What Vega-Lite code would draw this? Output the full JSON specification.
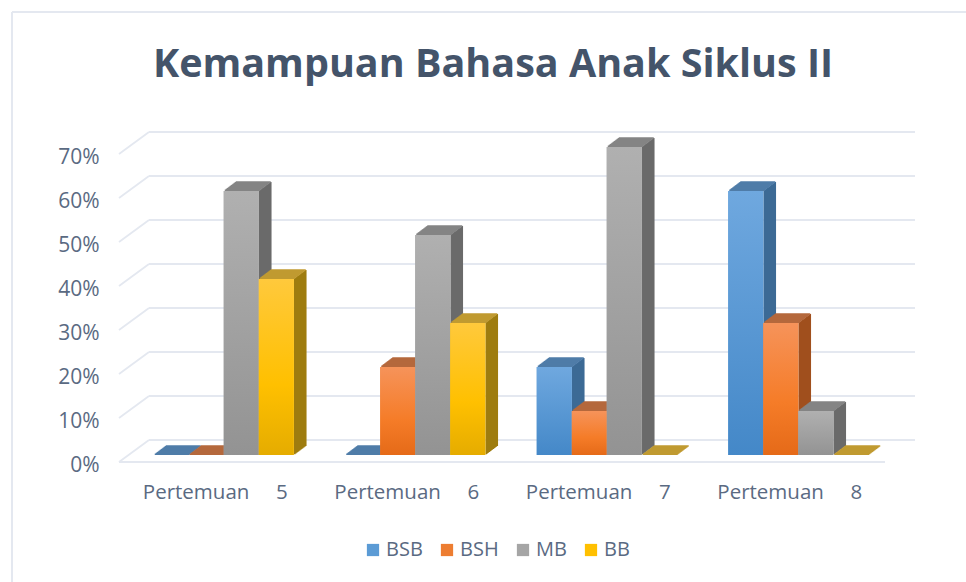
{"$schema":"https://vega.github.io/schema/vega-lite/v6.json","autosize":"none","width":766,"height":308,"padding":{"left":119,"top":154,"right":81,"bottom":120},"background":"white",
"title":{"text":"Kemampuan Bahasa Anak Siklus II","font":"Open Sans","fontWeight":"bold","fontSize":39.5,"color":"#44546a","anchor":"middle","frame":"group","dx":-9,"offset":-74},
"config":{"view":{"stroke":null}},
"data":{"values":[{"p":"Pertemuan 5","s":"BSB","v":0},{"p":"Pertemuan 5","s":"BSH","v":0},{"p":"Pertemuan 5","s":"MB","v":0.6},{"p":"Pertemuan 5","s":"BB","v":0.4},{"p":"Pertemuan 6","s":"BSB","v":0},{"p":"Pertemuan 6","s":"BSH","v":0.2},{"p":"Pertemuan 6","s":"MB","v":0.5},{"p":"Pertemuan 6","s":"BB","v":0.3},{"p":"Pertemuan 7","s":"BSB","v":0.2},{"p":"Pertemuan 7","s":"BSH","v":0.1},{"p":"Pertemuan 7","s":"MB","v":0.7},{"p":"Pertemuan 7","s":"BB","v":0},{"p":"Pertemuan 8","s":"BSB","v":0.6},{"p":"Pertemuan 8","s":"BSH","v":0.3},{"p":"Pertemuan 8","s":"MB","v":0.1},{"p":"Pertemuan 8","s":"BB","v":0}]},
"datasets":{"grid":[{"g":0},{"g":0.1},{"g":0.2},{"g":0.3},{"g":0.4},{"g":0.5},{"g":0.6},{"g":0.7}]},
"layer":[
{"mark":{"type":"rule","color":"#e4e8f0","strokeWidth":2},"encoding":{"x":{"value":-107},"x2":{"value":847},"y":{"value":-142}}},
{"mark":{"type":"rule","color":"#e4e8f0","strokeWidth":2},"encoding":{"x":{"value":-107},"y":{"value":-142},"y2":{"value":428}}},
{"data":{"name":"grid"},"mark":{"type":"rule","color":"#e4e8f0","strokeWidth":1.8},"encoding":{"x":{"value":30},"x2":{"value":796},"y":{"field":"g","type":"quantitative","scale":{"domain":[0,0.7],"range":[308,0],"nice":false},"axis":{"values":[0,0.1,0.2,0.3,0.4,0.5,0.6,0.7],"format":".0%","title":null,"grid":false,"ticks":false,"domain":false,"labelPadding":20,"labelFont":"Open Sans","labelFontSize":21,"labelColor":"#5a6a82","labelOffset":3}},"yOffset":{"value":-22}}},
{"data":{"name":"grid"},"mark":{"type":"rule","color":"#e4e8f0","strokeWidth":1.8,"y2Offset":-22},"encoding":{"x":{"value":0},"x2":{"value":30},"y":{"field":"g","type":"quantitative"},"y2":{"field":"g"}}},
{"data":{"values":[{"g":0}]},"mark":{"type":"rule","color":"#e4e8f0","strokeWidth":1.8},"encoding":{"x":{"value":0},"x2":{"value":766},"y":{"field":"g","type":"quantitative"}}},
{"transform":[{"calculate":"indexof(['Pertemuan 5','Pertemuan 6','Pertemuan 7','Pertemuan 8'],datum.p)+(indexof(['BSB','BSH','MB','BB'],datum.s)-1.5)*0.18277","as":"pos"}],
"encoding":{"x":{"field":"pos","type":"quantitative","scale":{"domain":[-0.5,3.5],"nice":false,"zero":false,"padding":0},"axis":{"title":null,"values":[0,1,2,3],"labelExpr":"['Pertemuan\u00a0\u00a0\u00a0\u00a0\u00a05','Pertemuan\u00a0\u00a0\u00a0\u00a0\u00a06','Pertemuan\u00a0\u00a0\u00a0\u00a0\u00a07','Pertemuan\u00a0\u00a0\u00a0\u00a0\u00a08'][datum.value]","grid":false,"ticks":false,"domain":false,"labelPadding":20,"labelFont":"Open Sans","labelFontSize":20.5,"labelColor":"#5a6a82","labelOffset":0}},"y":{"field":"v","type":"quantitative","stack":null}},
"layer":[
{"mark":{"type":"rule","strokeWidth":1.6,"xOffset":38.5,"yOffset":-16,"y2Offset":-16},"encoding":{"y2":{"datum":0},"stroke":{"field":"s","legend":null,"scale":{"domain":["BB","BSB","BSH","MB"],"range":["#9e7c10","#3c6a96","#a04f1e","#6b6b6b"]}}}},
{"mark":{"type":"rule","strokeWidth":1.6,"xOffset":37.5,"yOffset":-15.25,"y2Offset":-15.25},"encoding":{"y2":{"datum":0},"stroke":{"field":"s","legend":null}}},
{"mark":{"type":"rule","strokeWidth":1.6,"xOffset":36.5,"yOffset":-14.5,"y2Offset":-14.5},"encoding":{"y2":{"datum":0},"stroke":{"field":"s","legend":null}}},
{"mark":{"type":"rule","strokeWidth":1.6,"xOffset":35.5,"yOffset":-13.75,"y2Offset":-13.75},"encoding":{"y2":{"datum":0},"stroke":{"field":"s","legend":null}}},
{"mark":{"type":"rule","strokeWidth":1.6,"xOffset":34.5,"yOffset":-13,"y2Offset":-13},"encoding":{"y2":{"datum":0},"stroke":{"field":"s","legend":null}}},
{"mark":{"type":"rule","strokeWidth":1.6,"xOffset":33.5,"yOffset":-12.25,"y2Offset":-12.25},"encoding":{"y2":{"datum":0},"stroke":{"field":"s","legend":null}}},
{"mark":{"type":"rule","strokeWidth":1.6,"xOffset":32.5,"yOffset":-11.5,"y2Offset":-11.5},"encoding":{"y2":{"datum":0},"stroke":{"field":"s","legend":null}}},
{"mark":{"type":"rule","strokeWidth":1.6,"xOffset":31.5,"yOffset":-10.75,"y2Offset":-10.75},"encoding":{"y2":{"datum":0},"stroke":{"field":"s","legend":null}}},
{"mark":{"type":"rule","strokeWidth":1.6,"xOffset":30.5,"yOffset":-10,"y2Offset":-10},"encoding":{"y2":{"datum":0},"stroke":{"field":"s","legend":null}}},
{"mark":{"type":"rule","strokeWidth":1.6,"xOffset":29.5,"yOffset":-9.25,"y2Offset":-9.25},"encoding":{"y2":{"datum":0},"stroke":{"field":"s","legend":null}}},
{"mark":{"type":"rule","strokeWidth":1.6,"xOffset":28.5,"yOffset":-8.5,"y2Offset":-8.5},"encoding":{"y2":{"datum":0},"stroke":{"field":"s","legend":null}}},
{"mark":{"type":"rule","strokeWidth":1.6,"xOffset":27.5,"yOffset":-7.75,"y2Offset":-7.75},"encoding":{"y2":{"datum":0},"stroke":{"field":"s","legend":null}}},
{"mark":{"type":"tick","orient":"horizontal","size":35,"thickness":1.6,"opacity":1,"xOffset":21,"yOffset":-16},"encoding":{"fill":{"field":"s","legend":null,"scale":{"domain":["MB","BB","BSB","BSH"],"range":["#848484","#c09a30","#4f7ca8","#b5683c"]}}}},
{"mark":{"type":"tick","orient":"horizontal","size":35,"thickness":1.6,"opacity":1,"xOffset":20,"yOffset":-15.25},"encoding":{"fill":{"field":"s","legend":null}}},
{"mark":{"type":"tick","orient":"horizontal","size":35,"thickness":1.6,"opacity":1,"xOffset":19,"yOffset":-14.5},"encoding":{"fill":{"field":"s","legend":null}}},
{"mark":{"type":"tick","orient":"horizontal","size":35,"thickness":1.6,"opacity":1,"xOffset":18,"yOffset":-13.75},"encoding":{"fill":{"field":"s","legend":null}}},
{"mark":{"type":"tick","orient":"horizontal","size":35,"thickness":1.6,"opacity":1,"xOffset":17,"yOffset":-13},"encoding":{"fill":{"field":"s","legend":null}}},
{"mark":{"type":"tick","orient":"horizontal","size":35,"thickness":1.6,"opacity":1,"xOffset":16,"yOffset":-12.25},"encoding":{"fill":{"field":"s","legend":null}}},
{"mark":{"type":"tick","orient":"horizontal","size":35,"thickness":1.6,"opacity":1,"xOffset":15,"yOffset":-11.5},"encoding":{"fill":{"field":"s","legend":null}}},
{"mark":{"type":"tick","orient":"horizontal","size":35,"thickness":1.6,"opacity":1,"xOffset":14,"yOffset":-10.75},"encoding":{"fill":{"field":"s","legend":null}}},
{"mark":{"type":"tick","orient":"horizontal","size":35,"thickness":1.6,"opacity":1,"xOffset":13,"yOffset":-10},"encoding":{"fill":{"field":"s","legend":null}}},
{"mark":{"type":"tick","orient":"horizontal","size":35,"thickness":1.6,"opacity":1,"xOffset":12,"yOffset":-9.25},"encoding":{"fill":{"field":"s","legend":null}}},
{"mark":{"type":"tick","orient":"horizontal","size":35,"thickness":1.6,"opacity":1,"xOffset":11,"yOffset":-8.5},"encoding":{"fill":{"field":"s","legend":null}}},
{"mark":{"type":"tick","orient":"horizontal","size":35,"thickness":1.6,"opacity":1,"xOffset":10,"yOffset":-7.75},"encoding":{"fill":{"field":"s","legend":null}}},
{"mark":{"type":"bar","orient":"vertical","size":35,"xOffset":9,"yOffset":-7,"y2Offset":-7,"opacity":1},"encoding":{"y2":{"datum":0},"color":{"field":"s","type":"nominal","scale":{"domain":["BSB","BSH","MB","BB"],"range":["#5b9bd5","#ed7d31","#a5a5a5","#ffc000"]},"legend":{"orient":"none","legendX":244,"legendY":386,"direction":"horizontal","title":null,"symbolType":"square","symbolSize":150,"labelFont":"Open Sans","labelFontSize":20,"labelColor":"#5a6a82","columnPadding":14,"labelOffset":3,"symbolStrokeWidth":0}}}},
{"transform":[{"filter":"datum.s=='BSB'"}],"mark":{"type":"bar","orient":"vertical","size":35,"xOffset":9,"yOffset":-7,"y2Offset":-7,"color":{"gradient":"linear","x1":0,"y1":0,"x2":0,"y2":1,"stops":[{"offset":0,"color":"#6fa8df"},{"offset":1,"color":"#4488c8"}]}},"encoding":{"y2":{"datum":0}}},
{"transform":[{"filter":"datum.s=='BSH'"}],"mark":{"type":"bar","orient":"vertical","size":35,"xOffset":9,"yOffset":-7,"y2Offset":-7,"color":{"gradient":"linear","x1":0,"y1":0,"x2":0,"y2":1,"stops":[{"offset":0,"color":"#f6935a"},{"offset":0.6,"color":"#f57c28"},{"offset":1,"color":"#e56a18"}]}},"encoding":{"y2":{"datum":0}}},
{"transform":[{"filter":"datum.s=='MB'"}],"mark":{"type":"bar","orient":"vertical","size":35,"xOffset":9,"yOffset":-7,"y2Offset":-7,"color":{"gradient":"linear","x1":0,"y1":0,"x2":0,"y2":1,"stops":[{"offset":0,"color":"#b0b0b0"},{"offset":1,"color":"#939393"}]}},"encoding":{"y2":{"datum":0}}},
{"transform":[{"filter":"datum.s=='BB'"}],"mark":{"type":"bar","orient":"vertical","size":35,"xOffset":9,"yOffset":-7,"y2Offset":-7,"color":{"gradient":"linear","x1":0,"y1":0,"x2":0,"y2":1,"stops":[{"offset":0,"color":"#ffc93c"},{"offset":0.6,"color":"#ffc000"},{"offset":1,"color":"#e5ac00"}]}},"encoding":{"y2":{"datum":0}}}
]}
]}
